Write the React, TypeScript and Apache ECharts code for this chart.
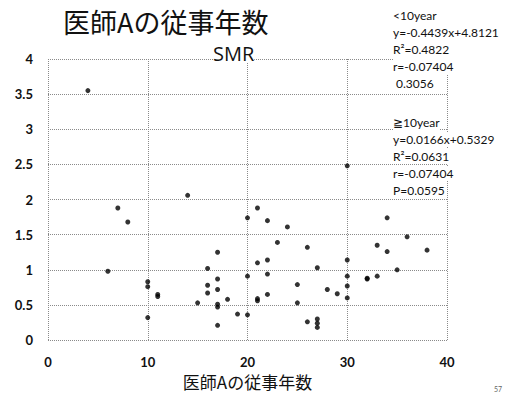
import React, { useEffect, useRef } from "react";
import * as echarts from "echarts";

const years: number[] = [
  4, 6, 7, 8, 10, 10, 10, 11, 11, 14, 15, 16, 16, 16, 17, 17, 17, 17, 17, 17,
  18, 19, 20, 20, 20, 21, 21, 21, 21, 22, 22, 22, 22, 23, 24, 25, 25, 26, 26,
  27, 27, 27, 27, 28, 29, 30, 30, 30, 30, 30, 32, 32, 33, 33, 34, 34, 35, 36, 38,
];
const smr: number[] = [
  3.55, 0.98, 1.88, 1.68, 0.83, 0.76, 0.32, 0.65, 0.62, 2.06, 0.53, 1.02, 0.78,
  0.67, 1.25, 0.87, 0.72, 0.51, 0.47, 0.21, 0.58, 0.37, 1.74, 0.91, 0.36, 1.88,
  1.1, 0.59, 0.56, 1.7, 1.14, 0.94, 0.65, 1.39, 1.61, 0.79, 0.53, 1.32, 0.26,
  1.03, 0.3, 0.24, 0.18, 0.72, 0.66, 2.48, 1.14, 0.91, 0.77, 0.6, 0.87, 0.88,
  0.91, 1.35, 1.74, 1.26, 1.0, 1.47, 1.28,
];

const titleText = "医師Aの従事年数";
const subTitle = "SMR";
const xAxisName = "医師Aの従事年数";
const pageNo = "57";
const statsUnder10: string[] = [
  "<10year",
  "y=-0.4439x+4.8121",
  "R²=0.4822",
  "r=-0.07404",
  " 0.3056",
];
const statsOver10: string[] = [
  "≧10year",
  "y=0.0166x+0.5329",
  "R²=0.0631",
  "r=-0.07404",
  "P=0.0595",
];

export default function App() {
  const ref = useRef<HTMLDivElement>(null);
  useEffect(() => {
    if (!ref.current) return;
    const chart = echarts.init(ref.current, undefined, { renderer: "svg" });
    const gridColor = "#8a8a8a";
    const statText = (lines: string[], top: number) =>
      lines.map((t, i) => ({
        type: "text",
        left: 393,
        top: top + i * 17,
        z: 10,
        style: {
          text: t,
          fill: "#111",
          font: "12px Lato",
          lineHeight: 15,
          backgroundColor: "#fff",
        },
      }));
    chart.setOption({
      animation: false,
      backgroundColor: "#fff",
      grid: { left: 48, right: 59, top: 59, bottom: 51 },
      xAxis: {
        type: "value",
        min: 0,
        max: 40,
        interval: 10,
        axisLine: { show: false },
        axisTick: { show: false },
        axisLabel: {
          margin: 15,
          fontSize: 13,
          fontWeight: "bold",
          fontFamily: "Lato",
          color: "#111",
        },
        splitLine: {
          show: true,
          lineStyle: { color: gridColor, type: [1, 1], width: 1 },
        },
        name: xAxisName,
        nameLocation: "middle",
        nameGap: 30,
        nameTextStyle: {
          fontSize: 17,
          fontFamily: "Noto Sans CJK JP",
          color: "#111",
        },
      },
      yAxis: {
        type: "value",
        min: 0,
        max: 4,
        interval: 0.5,
        axisLine: { show: false },
        axisTick: { show: false },
        axisLabel: {
          margin: 15,
          fontSize: 13,
          fontWeight: "bold",
          fontFamily: "Lato",
          color: "#111",
        },
        splitLine: {
          show: true,
          lineStyle: { color: gridColor, type: [1, 1], width: 1 },
        },
      },
      series: [
        {
          type: "scatter",
          data: years.map((x, i) => [x, smr[i]]),
          symbol: "circle",
          symbolSize: 5,
          itemStyle: { color: "#000" },
        },
      ],
      graphic: [
        {
          type: "text",
          left: 63,
          top: 8,
          style: {
            text: titleText,
            fill: "#111",
            font: "27px 'Noto Sans CJK JP'",
            lineHeight: 27,
          },
        },
        {
          type: "text",
          left: 213,
          top: 43,
          z: 10,
          style: {
            text: subTitle,
            fill: "#111",
            font: "20px 'Open Sans'",
            lineHeight: 20,
            backgroundColor: "#fff",
          },
        },
        ...statText(statsUnder10, 8),
        ...statText(statsOver10, 115),
        {
          type: "text",
          left: 494,
          top: 385,
          style: { text: pageNo, fill: "#666", font: "7px Lato" },
        },
      ],
    });
    return () => chart.dispose();
  }, []);
  return (
    <div
      ref={ref}
      style={{ position: "fixed", left: 0, top: 0, width: 506, height: 395 }}
    />
  );
}
